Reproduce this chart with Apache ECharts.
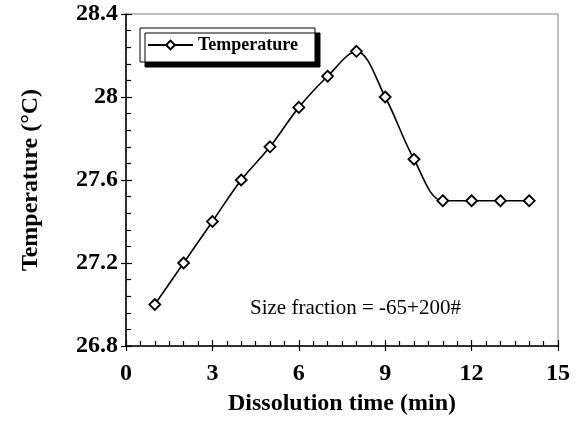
<!DOCTYPE html>
<html>
<head>
<meta charset="utf-8">
<script src="https://cdn.jsdelivr.net/npm/echarts@6/dist/echarts.min.js"></script>
<style>html,body{margin:0;padding:0;background:#fff}#c{width:583px;height:421px}</style>
</head>
<body>
<div id="c"></div>
<script>
var times = [1, 2, 3, 4, 5, 6, 7, 8, 9, 10, 11, 12, 13, 14];
var temperature = [27.0, 27.2, 27.4, 27.6, 27.76, 27.95, 28.1, 28.22, 28.0, 27.7, 27.5, 27.5, 27.5, 27.5];
var seriesName = 'Temperature';
var annotation = 'Size fraction = -65+200#';
var xTitle = 'Dissolution time (min)';
var yTitle = 'Temperature (\u00B0C)';

var F = 'Liberation Serif, Times New Roman, serif';
var chart = echarts.init(document.getElementById('c'));
var pts = times.map(function (t, i) { return [t, temperature[i]]; });
chart.setOption({
  animation: false,
  backgroundColor: '#fff',
  grid: { left: 126, right: 25, top: 14, bottom: 75, show: true, borderColor: '#808080', borderWidth: 1, backgroundColor: 'transparent' },
  legend: {
    left: 140, top: 28,
    padding: [8, 17, 8, 7],
    itemWidth: 45, itemHeight: 11, itemGap: 0,
    backgroundColor: '#fff', borderColor: '#000', borderWidth: 1,
    shadowColor: '#000', shadowBlur: 0, shadowOffsetX: 5, shadowOffsetY: 5,
    textStyle: { fontFamily: F, fontWeight: 'bold', fontSize: 18, color: '#000' },
    data: [seriesName]
  },
  xAxis: [{
    type: 'value', min: 0, max: 15, interval: 3,
    name: xTitle, nameLocation: 'middle', nameGap: 46,
    nameTextStyle: { fontFamily: F, fontWeight: 'bold', fontSize: 24, color: '#000' },
    axisLine: { lineStyle: { color: '#000', width: 1.5 } },
    axisTick: { inside: true, length: 6, lineStyle: { color: '#000', width: 1.2 } },
    minorTick: { show: true, splitNumber: 6, length: 5, lineStyle: { color: '#000', width: 1.2 } },
    axisLabel: { margin: 16, fontFamily: F, fontWeight: 'bold', fontSize: 24, color: '#000' },
    splitLine: { show: false }
  }, {
    type: 'value', min: 0, max: 15, interval: 3, position: 'bottom', offset: 0,
    axisLine: { show: false },
    axisTick: { inside: false, length: 5, lineStyle: { color: '#000', width: 1.2 } },
    axisLabel: { show: false }, splitLine: { show: false }
  }],
  yAxis: [{
    type: 'value', min: 26.8, max: 28.4, interval: 0.4,
    name: yTitle, nameLocation: 'middle', nameGap: 83, nameRotate: 90,
    nameTextStyle: { fontFamily: F, fontWeight: 'bold', fontSize: 24, color: '#000' },
    axisLine: { lineStyle: { color: '#000', width: 1.5 } },
    axisTick: { inside: true, length: 6, lineStyle: { color: '#000', width: 1.2 } },
    minorTick: { show: true, splitNumber: 5, length: 5, lineStyle: { color: '#000', width: 1.2 } },
    axisLabel: { margin: 8, fontFamily: F, fontWeight: 'bold', fontSize: 24, color: '#000',
      formatter: function (v) { return String(Math.round(v * 10) / 10); } },
    splitLine: { show: false }
  }, {
    type: 'value', min: 26.8, max: 28.4, interval: 0.4, position: 'left', offset: 0,
    axisLine: { show: false },
    axisTick: { inside: false, length: 5, lineStyle: { color: '#000', width: 1.2 } },
    axisLabel: { show: false }, splitLine: { show: false }
  }],
  graphic: [{
    type: 'text', left: 250, top: 298,
    style: { text: annotation, font: '21px ' + F, fill: '#000' }
  }],
  series: [{
    name: seriesName, type: 'line', data: pts, smooth: 0.35,
    symbol: 'diamond', symbolSize: 11,
    lineStyle: { color: '#000', width: 1.6 },
    itemStyle: { color: '#fff', borderColor: '#000', borderWidth: 1.8 }
  }]
});
</script>
</body>
</html>
